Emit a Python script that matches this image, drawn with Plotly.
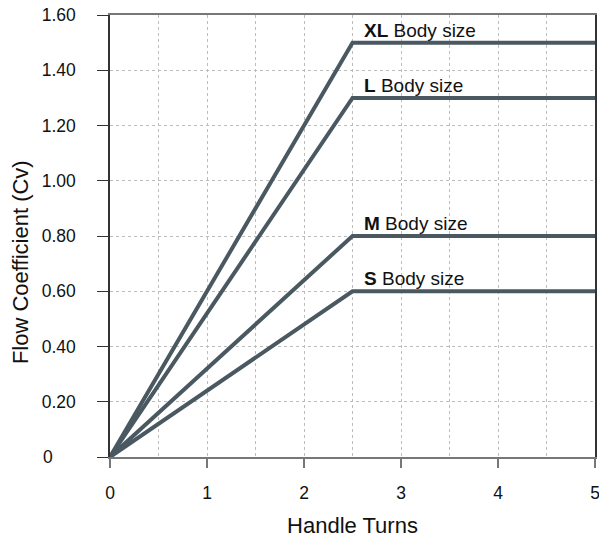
import plotly.graph_objects as go

turns = [0, 2.5, 5]
sizes = ["XL", "L", "M", "S"]
cv_max = [1.5, 1.3, 0.8, 0.6]
y_ticks = [0, 0.2, 0.4, 0.6, 0.8, 1.0, 1.2, 1.4, 1.6]
y_labels = ["0", "0.20", "0.40", "0.60", "0.80", "1.00", "1.20", "1.40", "1.60"]
x_ticks = [0, 1, 2, 3, 4, 5]

LINE = "#4a5961"
FONT = "Liberation Sans, Arial, Helvetica, sans-serif"
GRID = dict(showgrid=True, gridcolor="#bdbdbd", griddash="3px,3px", gridwidth=1)

# the short labels are left-aligned with the others in the reference: draw them as annotations
y_text = [t if len(t) > 1 else "" for t in y_labels]

fig = go.Figure()
for s, m in zip(sizes, cv_max):
    fig.add_trace(go.Scatter(x=turns, y=[0, m, m], mode="lines",
                             line=dict(color=LINE, width=4), name=s,
                             showlegend=False, hoverinfo="skip"))
    fig.add_annotation(x=2.6, y=m, xanchor="left", yanchor="bottom", yshift=0,
                       text=f"<b>{s}</b> Body size", showarrow=False,
                       font=dict(size=19, color="#111", family=FONT))

for v, t in zip(y_ticks, y_labels):
    if len(t) == 1:
        fig.add_annotation(xref="paper", yref="y", x=0, y=v, xshift=-69,
                           xanchor="left", yanchor="middle", text=t, showarrow=False,
                           font=dict(size=17.5, color="#111", family=FONT))

fig.add_annotation(xref="paper", yref="paper", x=0, y=0.441, xshift=-90,
                   xanchor="center", yanchor="middle", textangle=-90,
                   text="Flow Coefficient (Cv)", showarrow=False,
                   font=dict(size=22, color="#111", family=FONT))

fig.update_layout(
    width=599, height=540,
    margin=dict(l=110, r=4, t=15, b=83, autoexpand=False),
    plot_bgcolor="white", paper_bgcolor="white",
    font=dict(family=FONT, color="#111"),
    xaxis=dict(range=[0, 5], tickvals=x_ticks, ticks="outside", ticklen=9,
               tickcolor="#777", tickwidth=2, showline=True, linecolor="#777",
               linewidth=2, mirror=True, zeroline=False, ticklabelstandoff=10,
               ticklabeloverflow="allow", automargin=False,
               tickfont=dict(size=17.5), title=dict(text="Handle Turns", font=dict(size=22), standoff=16),
               minor=dict(dtick=0.5, **GRID), **GRID),
    yaxis=dict(range=[0, 1.6], tickvals=y_ticks, ticktext=y_text, ticks="outside",
               ticklen=11, tickcolor="#333", showline=True, linecolor="#333",
               linewidth=1.5, mirror=True, zeroline=False, ticklabelstandoff=18,
               ticklabeloverflow="allow", automargin=False,
               tickfont=dict(size=17.5), **GRID),
)

fig.write_html("out.html", config={"displayModeBar": False},
               post_script="document.body.style.margin='0';")
